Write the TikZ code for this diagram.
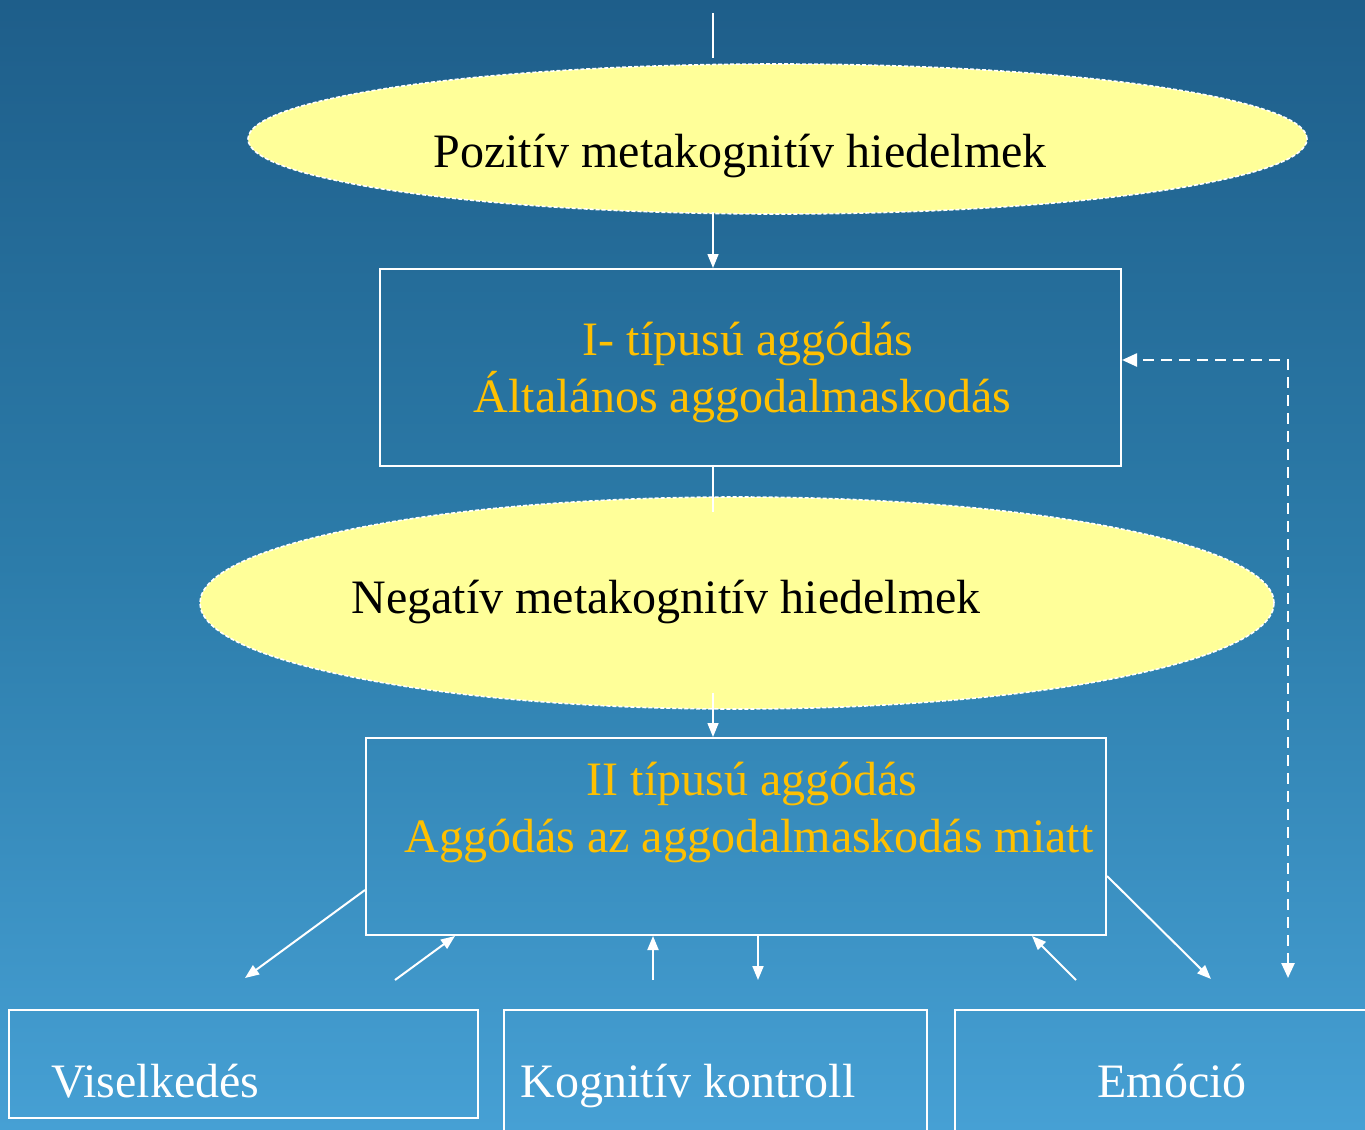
\documentclass[tikz,border=0pt]{standalone}
\usepackage{fontspec}
\setmainfont{Liberation Serif}
\usetikzlibrary{shapes.geometric,arrows.meta}
\definecolor{bgtop}{RGB}{30,94,138}
\definecolor{bgmid}{RGB}{44,124,170}
\definecolor{bgbot}{RGB}{70,160,212}
\definecolor{ellfill}{RGB}{255,255,153}
\definecolor{boxtext}{RGB}{255,192,0}
\tikzset{
  ell/.style={ellipse, fill=ellfill, draw=white, line width=1.6bp, dash pattern=on 4bp off 2bp, inner sep=0pt},
  wbox/.style={rectangle, draw=white, line width=2bp, inner sep=0pt},
  big/.style={font=\fontsize{48bp}{57bp}\selectfont, inner sep=0pt, anchor=base},
  ytxt/.style={big, text=boxtext},
  btxt/.style={big, text=black},
  wtxt/.style={big, text=white},
  conn/.style={draw=white, line width=2bp},
  arr/.style={conn, -{Triangle[length=14bp,width=11bp]}},
  dasharr/.style={draw=white, line width=2.5bp, dash pattern=on 11bp off 7bp,
     {Triangle[length=15bp,width=13bp]}-{Triangle[length=15bp,width=13bp]}}
}
\begin{document}
\begin{tikzpicture}[x=1bp,y=-1bp]
\useasboundingbox (0,0) rectangle (1365,1129);
\shade[top color=bgtop, bottom color=bgbot, middle color=bgmid] (0,0) rectangle (1365,1129);

% top line
\coordinate (top0) at (713,13);
\coordinate (top1) at (713,58);
\draw[conn, line width=1.5bp] (top0) -- (top1);

% ellipse 1
\node[ell, minimum width=1059bp, minimum height=150bp] (e1) at (777.5,139) {};
\node[btxt] (t1) at (740,167) {Pozitív metakognitív hiedelmek};

% box 1
\node[wbox, minimum width=741bp, minimum height=197bp] (b1) at (750.5,367.5) {};
\node[ytxt] (t2) at (748,355) {I- típusú aggódás};
\node[ytxt] (t3) at (742.5,412) {Általános aggodalmaskodás};

\coordinate (a1) at (713,212);
\draw[arr, line width=1.5bp] (a1) -- (a1 |- b1.north);

% ellipse 2
\node[ell, minimum width=1074bp, minimum height=212bp] (e2) at (737,603) {};
\node[btxt] (t4) at (666,613) {Negatív metakognitív hiedelmek};

\coordinate (a2) at (713,512);
\draw[conn, line width=1.5bp] (b1.south -| a2) -- (a2);

% box 2
\node[wbox, minimum width=740bp, minimum height=197bp] (b2) at (736,836.5) {};
\node[ytxt] (t5) at (752,795) {II típusú aggódás};
\node[ytxt] (t6) at (749,852) {Aggódás az aggodalmaskodás miatt};

\coordinate (a3) at (713,693);
\draw[arr, line width=1.5bp] (a3) -- (a3 |- b2.north);

% bottom boxes
\node[wbox, minimum width=469bp, minimum height=108bp] (v) at (243.5,1064) {};
\node[wtxt] (tv) at (155.5,1097) {Viselkedés};
\node[wbox, minimum width=423bp, minimum height=140bp] (k) at (715.5,1080) {};
\node[wtxt] (tk) at (688,1097) {Kognitív kontroll};
\node[wbox, minimum width=430bp, minimum height=140bp] (m) at (1170,1080) {};
\node[wtxt] (tm) at (1172,1097) {Emóció};

% arrows between box 2 and bottom boxes
\coordinate (p1) at (366,890);
\coordinate (v1) at (245,978);
\draw[arr] (b2.west |- p1) -- (v1);

\coordinate (v2) at (395,980);
\coordinate (q2) at (455,936);
\draw[arr] (v2) -- (b2.south -| q2);

\coordinate (k1) at (653,980);
\draw[arr] (k1) -- (k1 |- b2.south);

\coordinate (k2) at (758,980);
\draw[arr] (k2 |- b2.south) -- (k2);

\coordinate (m1) at (1076,980);
\coordinate (q5) at (1032,936);
\draw[arr] (m1) -- (b2.south -| q5);

\coordinate (p6) at (1106,876);
\coordinate (m2) at (1211,979);
\draw[arr] (b2.east |- p6) -- (m2);

% dashed feedback
\coordinate (d1) at (1288,978);
\coordinate (d2) at (1288,360);
\draw[dasharr] (d1) -- (d2) -- (b1.east |- d2);
\end{tikzpicture}
\end{document}
